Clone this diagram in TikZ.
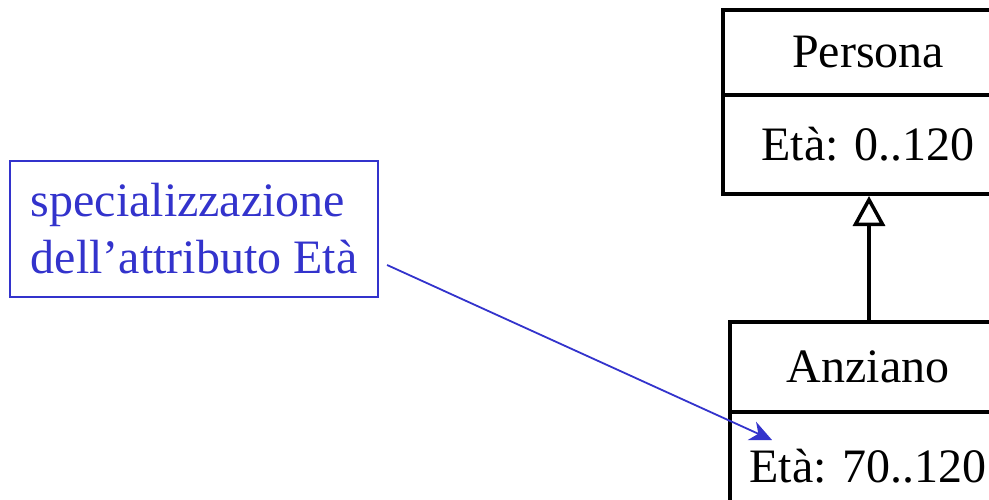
\documentclass[tikz,border=0pt]{standalone}
\usepackage{fontspec}
\setmainfont{Liberation Serif}
\usetikzlibrary{arrows.meta}
\definecolor{noteblue}{RGB}{51,51,204}
\tikzset{
  umlbox/.style={draw=black, line width=3.5pt, inner sep=0pt, outer sep=0pt, font=\fontsize{48}{57}\selectfont},
  notebox/.style={draw=noteblue, line width=2.2pt, text=noteblue, align=left, inner sep=0pt,
    font=\fontsize{48}{57}\selectfont},
  notearrow/.style={draw=noteblue, line width=1.8pt, -{Stealth[length=22pt,width=20pt,inset=7pt]}},
  genarrow/.style={line width=3.5pt, -{Triangle[open,length=30pt,width=32pt,line width=3.5pt]}}
}
\begin{document}
\begin{tikzpicture}[x=1pt,y=-1pt]
\useasboundingbox (0,0) rectangle (989,499);
\clip (0,0) rectangle (989,499);
% Persona
\node[umlbox, minimum width=290pt, minimum height=85pt] (pname) at (868,52.5) {Persona};
\node[umlbox, minimum width=290pt, minimum height=99pt, anchor=north] (pattr) at (pname.south) {Età: 0..120};
% Anziano
\node[umlbox, minimum width=276pt, minimum height=90pt] (aname) at (868,367) {Anziano};
\node[umlbox, minimum width=276pt, minimum height=108pt, anchor=north] (aattr) at (aname.south) {Età: 70..120};
% generalization
\coordinate (stem) at (869,0);
\draw[genarrow, shorten >=2pt] (stem |- aname.north) -- (stem |- pattr.south);
% note
\node[notebox, minimum width=368pt, minimum height=136pt] (note) at (194,229)
  {specializzazione\\dell’attributo Età};
\coordinate (tip) at (772,440);
\draw[notearrow] ([xshift=8pt,yshift=-36pt]note.east) -- (tip);
\end{tikzpicture}
\end{document}
